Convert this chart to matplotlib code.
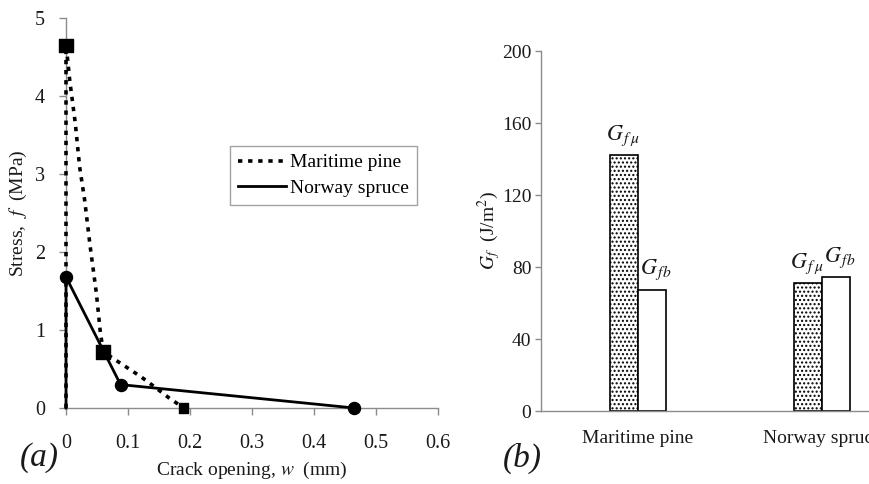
import matplotlib.pyplot as plt

plt.rcParams['font.family'] = ['Liberation Serif', 'DejaVu Serif']
plt.rcParams['mathtext.fontset'] = 'stix'
plt.rcParams['hatch.linewidth'] = 1.0
plt.rcParams['hatch.color'] = '#555555'

# (a) courbes contrainte - ouverture
mp_curve_w = [0, 0, 0.003, 0.006, 0.015, 0.022, 0.030, 0.039, 0.049, 0.055, 0.060,
              0.081, 0.121, 0.143, 0.166, 0.190]
mp_curve_f = [0, 4.65, 4.44, 4.20, 3.65, 3.09, 2.67, 2.07, 1.47, 1.00, 0.72,
              0.61, 0.40, 0.27, 0.13, 0]
mp_pts_w = [0, 0.060, 0.190]
mp_pts_f = [4.65, 0.72, 0]

ns_w = [0, 0, 0.088, 0.465]
ns_f = [0, 1.68, 0.30, 0]
ns_pts_w = [0, 0.088, 0.465]
ns_pts_f = [1.68, 0.30, 0]

# (b) énergies de rupture
especes = ['Maritime pine', 'Norway spruce']
gf_mu = [142, 71]
gf_b = [67.5, 74.5]

gris = '#8c8c8c'
texte = '#1a1a1a'

fig = plt.figure(figsize=(8.7, 4.84), dpi=100)

# ---- panneau (a)
ax1 = fig.add_axes([66/870, 1 - 408/484, 372/870, 390/484])
ax1.plot(mp_curve_w, mp_curve_f, color='black', lw=2.6, ls=(0, (1.2, 1.6)),
         label='Maritime pine', zorder=3, clip_on=False)
ax1.plot(ns_w, ns_f, color='black', lw=2.0, label='Norway spruce', zorder=3,
         clip_on=False)
ax1.scatter(mp_pts_w, mp_pts_f, marker='s', s=[95, 95, 45], color='black',
            zorder=4, clip_on=False)
ax1.scatter(ns_pts_w, ns_pts_f, marker='o', s=75, color='black',
            zorder=4, clip_on=False)
ax1.set_xlim(0, 0.6)
ax1.set_ylim(0, 5)
ax1.set_xticks([0, 0.1, 0.2, 0.3, 0.4, 0.5, 0.6])
ax1.set_xticklabels(['0', '0.1', '0.2', '0.3', '0.4', '0.5', '0.6'])
ax1.set_yticks(range(6))
for s in ['top', 'right']:
    ax1.spines[s].set_visible(False)
for s in ['left', 'bottom']:
    ax1.spines[s].set_color(gris)
    ax1.spines[s].set_linewidth(1.0)
ax1.tick_params(direction='out', length=5, width=1, color=gris,
                labelsize=14.5, labelcolor=texte)
ax1.tick_params(axis='x', pad=14)
ax1.tick_params(axis='y', pad=10)
ax1.set_xlabel('Crack opening, $w$  (mm)', fontsize=14, color=texte, labelpad=5)
ax1.set_ylabel('Stress,  $f$  (MPa)', fontsize=14, color=texte, labelpad=4)
leg = ax1.legend(loc='upper left', bbox_to_anchor=(164/372, 1 - 128/390),
                 fontsize=14, frameon=True, fancybox=False, handlelength=2.5,
                 handletextpad=0.2, borderpad=0.4, labelspacing=0.4,
                 borderaxespad=0)
leg.get_frame().set_edgecolor(gris)
leg.get_frame().set_linewidth(1.0)
fig.text(20/870, 1 - 458/484, '(a)', fontsize=24, style='italic', color=texte,
         va='center')

# ---- panneau (b)
larg = 0.15
ax2 = fig.add_axes([541/870, 1 - 411/484, 378/870, 360/484])
pos = [0, 1]
b1 = ax2.bar([p - larg / 2 for p in pos], gf_mu, width=larg, facecolor='white',
             edgecolor='black', lw=1.2, hatch='....', zorder=2)
b2 = ax2.bar([p + larg / 2 for p in pos], gf_b, width=larg, facecolor='white',
             edgecolor='black', lw=1.2, zorder=2)
for r in b1:
    ax2.text(r.get_x() + r.get_width() / 2 - 0.01, r.get_height() + 4,
             r'$G_{\,f\,\mu}$', ha='center', va='bottom', fontsize=16, color=texte)
for r in b2:
    ax2.text(r.get_x() + r.get_width() / 2 + 0.02, r.get_height() + 4,
             r'$G_{\,fb}$', ha='center', va='bottom', fontsize=16, color=texte)
ax2.set_xlim(-0.527, 1.527)
ax2.set_ylim(0, 200)
ax2.set_yticks(range(0, 201, 40))
ax2.set_xticks(pos)
ax2.set_xticklabels(especes)
for s in ['top', 'right']:
    ax2.spines[s].set_visible(False)
for s in ['left', 'bottom']:
    ax2.spines[s].set_color(gris)
    ax2.spines[s].set_linewidth(1.0)
ax2.tick_params(axis='y', direction='out', length=4, width=1, color=gris,
                labelsize=14, labelcolor=texte, pad=3)
ax2.tick_params(axis='x', length=0, labelsize=14, labelcolor=texte, pad=14)
ax2.set_ylabel('$G_f$  (J/m$^2$)', fontsize=14, color=texte, labelpad=-1)
fig.text(503/870, 1 - 458/484, '(b)', fontsize=24, style='italic', color=texte,
         va='center')

fig.savefig('out.png', dpi=100)
